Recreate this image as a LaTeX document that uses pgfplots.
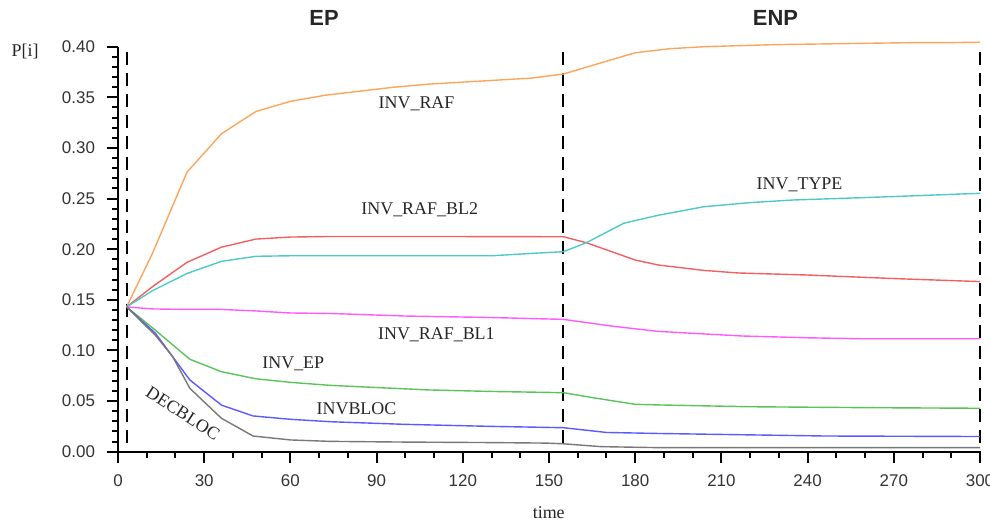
\documentclass[border=0pt]{standalone}
\usepackage{fontspec}
\setmainfont{Liberation Serif}
\newfontfamily\sansf{Liberation Sans}
\usepackage{pgfplots}
\pgfplotsset{compat=1.18}
\definecolor{corange}{RGB}{255,165,90}
\definecolor{cred}{RGB}{245,95,95}
\definecolor{ccyan}{RGB}{80,200,200}
\definecolor{cmag}{RGB}{255,90,255}
\definecolor{cgreen}{RGB}{90,195,90}
\definecolor{cblue}{RGB}{90,90,255}
\definecolor{cgray}{RGB}{120,120,120}
\begin{document}
\begin{tikzpicture}
\useasboundingbox (0,0) rectangle (495bp,262bp);
\begin{axis}[
  at={(59bp,36.15bp)}, anchor=south west,
  scale only axis, width=431bp, height=202.5bp,
  xmin=0, xmax=300, ymin=0, ymax=0.40,
  axis lines=left,
  axis line style={-, line width=1bp, black},
  clip=false,
  xtick={0,30,60,90,120,150,180,210,240,270,300},
  ytick={0,0.05,0.10,0.15,0.20,0.25,0.30,0.35,0.40},
  minor x tick num=2,
  minor y tick num=4,
  tick align=outside,
  major tick length=5.5bp,
  minor tick length=3bp,
  every tick/.style={black, line width=1bp},
  tick label style={font=\sansf\fontsize{8.5}{10}\selectfont, text=black!80},
  /pgf/number format/assume math mode=true,
  yticklabel style={xshift=-2.5bp, /pgf/number format/.cd, fixed, fixed zerofill, precision=2},
  xticklabel style={yshift=-2.5bp, /pgf/number format/.cd, fixed, precision=0},
  every axis plot/.append style={line width=0.7bp},
]
% dashed phase separators
\addplot[black, line width=1bp, dash pattern=on 6.5bp off 4bp] coordinates {(3,0.395) (3,0)};
\addplot[black, line width=1bp, dash pattern=on 6.5bp off 4bp] coordinates {(155,0.395) (155,0)};
\addplot[black, line width=1bp, dash pattern=on 6.5bp off 4bp] coordinates {(300,0.395) (300,0)};
% INV_RAF
\addplot[corange] coordinates {(3,0.143) (12,0.196) (24,0.276) (36,0.314) (48,0.336) (60,0.346) (72,0.352) (84,0.356) (96,0.360) (108,0.363) (120,0.365) (132,0.367) (144,0.369) (155,0.373) (168,0.384) (180,0.394) (192,0.398) (204,0.400) (216,0.401) (228,0.402) (240,0.4025) (252,0.403) (264,0.4035) (276,0.404) (288,0.404) (300,0.4044)};
% INV_RAF_BL2
\addplot[cred] coordinates {(3,0.143) (12,0.163) (24,0.187) (36,0.202) (48,0.210) (60,0.212) (72,0.2125) (96,0.2125) (120,0.2125) (155,0.2123) (163,0.2064) (180,0.1893) (188,0.1844) (204,0.179) (216,0.1765) (240,0.1745) (270,0.171) (300,0.168)};
% INV_TYPE
\addplot[ccyan] coordinates {(3,0.143) (12,0.159) (24,0.176) (36,0.188) (48,0.193) (60,0.1935) (96,0.1935) (130,0.1935) (145,0.196) (155,0.1975) (163,0.2064) (176,0.2256) (188,0.2335) (204,0.242) (220,0.246) (235,0.2486) (255,0.2505) (270,0.252) (300,0.2552)};
% INV_RAF_BL1
\addplot[cmag] coordinates {(3,0.143) (12,0.141) (24,0.1405) (36,0.1405) (48,0.139) (60,0.137) (74,0.1365) (100,0.134) (130,0.1325) (155,0.1307) (172,0.124) (188,0.1188) (217,0.1143) (240,0.1125) (258,0.1116) (300,0.1116)};
% INV_EP
\addplot[cgreen] coordinates {(3,0.143) (13,0.120) (25,0.0913) (36,0.079) (48,0.072) (60,0.0685) (74,0.0655) (108,0.061) (130,0.0595) (155,0.0583) (166,0.053) (180,0.0468) (188,0.0462) (220,0.0444) (260,0.0435) (300,0.0429)};
% INVBLOC
\addplot[cblue] coordinates {(3,0.143) (13,0.117) (25,0.0708) (36,0.046) (47,0.0353) (60,0.032) (74,0.0296) (100,0.027) (130,0.025) (155,0.0237) (170,0.019) (188,0.018) (246,0.0155) (300,0.015)};
% DECBLOC
\addplot[cgray] coordinates {(3,0.143) (13,0.115) (19,0.094) (25,0.0626) (36,0.033) (47,0.0155) (60,0.0116) (74,0.0102) (100,0.0095) (130,0.009) (149,0.0085) (155,0.0078) (168,0.005) (188,0.004) (300,0.004)};
% curve labels
\begin{scope}[every node/.style={font=\fontsize{9}{10}\selectfont, text=black!85}]
\node at (axis cs:103.9,0.344) {INV\_RAF};
\node at (axis cs:105,0.2387) {INV\_RAF\_BL2};
\node at (axis cs:237.2,0.2634) {INV\_TYPE};
\node at (axis cs:110.8,0.1153) {INV\_RAF\_BL1};
\node at (axis cs:61,0.0873) {INV\_EP};
\node at (axis cs:83,0.0428) {INVBLOC};
\node[rotate=-33] at (axis cs:22.6,0.038) {DECBLOC};
\node at (axis cs:-32.3,0.3948) {P[i]};
\node at (axis cs:149.9,-0.0605) {time};
\end{scope}
\node[font=\sansf\bfseries\fontsize{11}{12}\selectfont, text=black!85] at (axis cs:71.7,0.4283) {EP};
\node[font=\sansf\bfseries\fontsize{11}{12}\selectfont, text=black!85] at (axis cs:228.8,0.4288) {ENP};
\end{axis}
\end{tikzpicture}
\end{document}
